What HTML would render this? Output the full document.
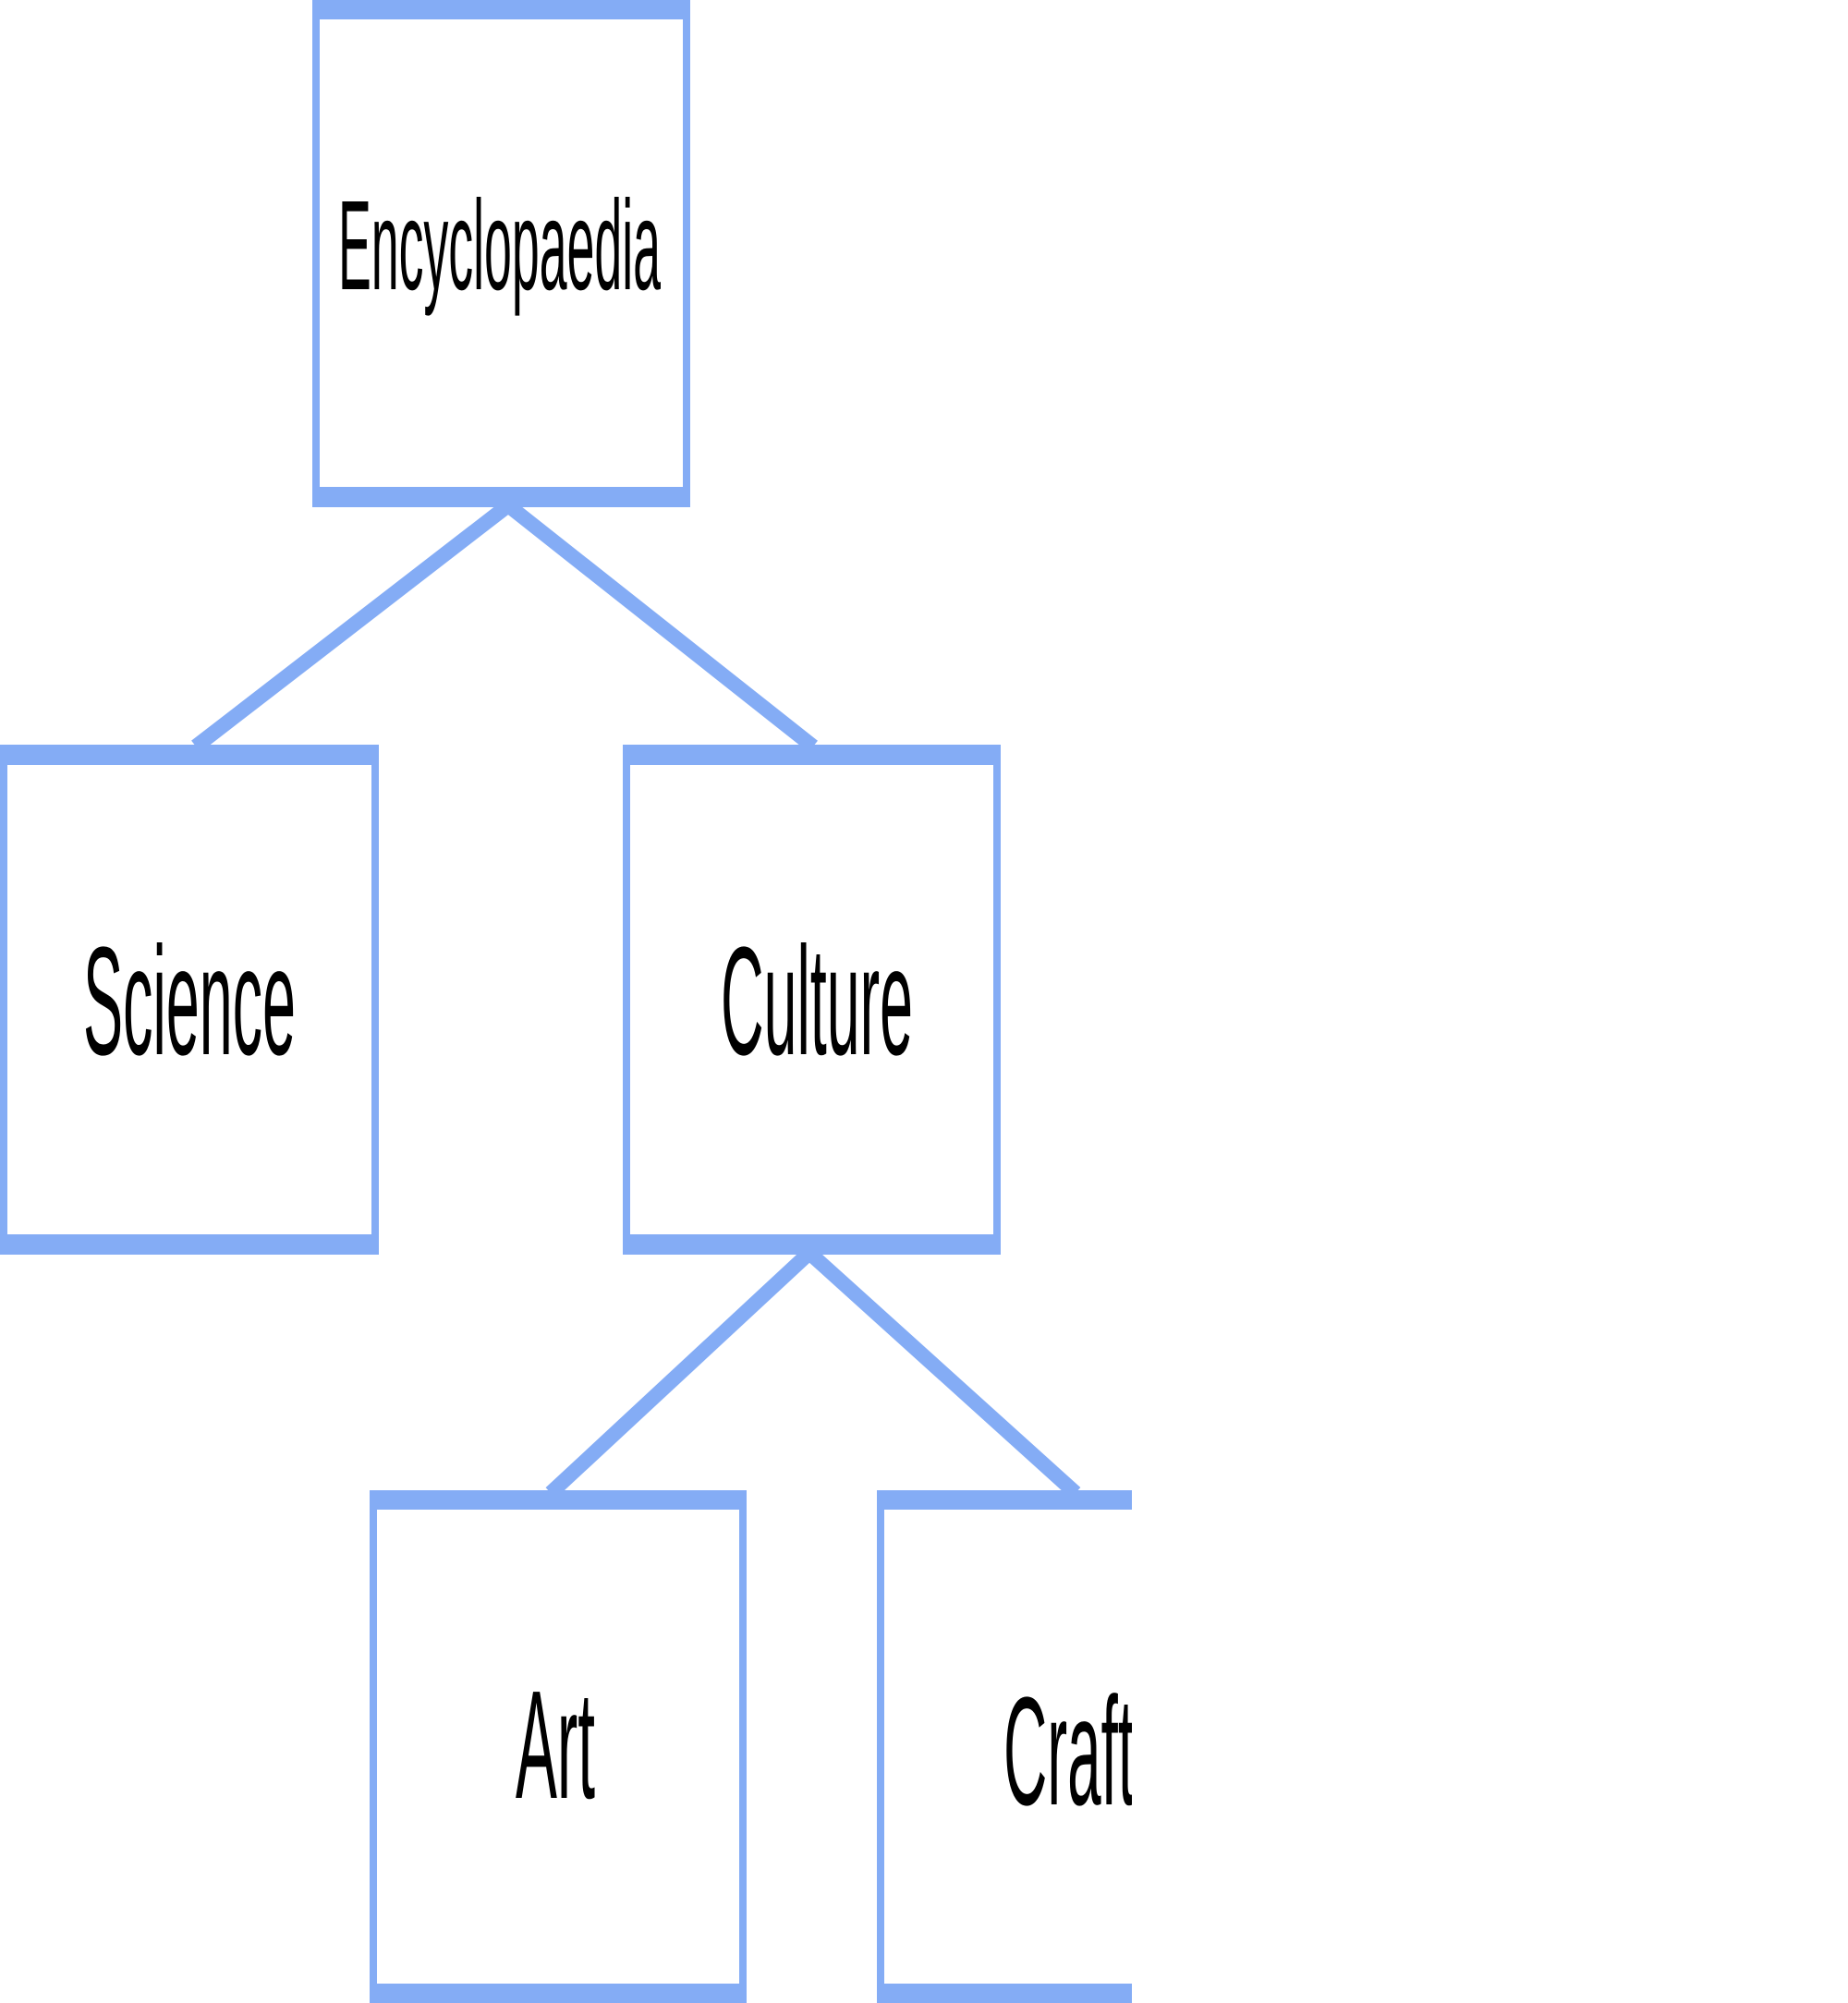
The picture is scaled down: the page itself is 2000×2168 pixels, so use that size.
<!DOCTYPE html>
<html><head><meta charset="utf-8"><style>
html,body{margin:0;padding:0;background:#fff;width:2000px;height:2168px;overflow:hidden}
svg{display:block}
text{font-family:"Liberation Sans",Arial,sans-serif;fill:#000}
</style></head><body>
<svg width="2000" height="2168" viewBox="0 0 2000 2168" xmlns="http://www.w3.org/2000/svg">
<defs><clipPath id="c"><rect x="0" y="0" width="1225" height="2168"/></clipPath></defs>
<g fill="#84ACF5" clip-path="url(#c)">
<g stroke="#84ACF5" stroke-width="16" fill="none">
<line x1="550" y1="547" x2="212" y2="808"/>
<line x1="550" y1="547" x2="880" y2="808"/>
<line x1="876" y1="1356" x2="596" y2="1616"/>
<line x1="876" y1="1356" x2="1164" y2="1616"/>
</g>
<rect x="338" y="0" width="409" height="21"/>
<rect x="338" y="527" width="409" height="22"/>
<rect x="338" y="0" width="8" height="549"/>
<rect x="739" y="0" width="8" height="549"/>
<rect x="0" y="806" width="410" height="22"/>
<rect x="0" y="1336" width="410" height="22"/>
<rect x="0" y="806" width="8" height="552"/>
<rect x="402" y="806" width="8" height="552"/>
<rect x="674" y="806" width="409" height="22"/>
<rect x="674" y="1336" width="409" height="22"/>
<rect x="674" y="806" width="8" height="552"/>
<rect x="1075" y="806" width="8" height="552"/>
<rect x="400" y="1613" width="408" height="21"/>
<rect x="400" y="2147" width="408" height="21"/>
<rect x="400" y="1613" width="8" height="555"/>
<rect x="800" y="1613" width="8" height="555"/>
<rect x="949" y="1613" width="410" height="21"/>
<rect x="949" y="2147" width="410" height="21"/>
<rect x="949" y="1613" width="8" height="555"/>
<g fill="#000">
<text x="366" y="313" font-size="138" textLength="349" lengthAdjust="spacingAndGlyphs">Encyclopaedia</text>
<text x="90" y="1141" font-size="167" textLength="230" lengthAdjust="spacingAndGlyphs">Science</text>
<text x="780" y="1141" font-size="167" textLength="208" lengthAdjust="spacingAndGlyphs">Culture</text>
<text x="558" y="1946" font-size="167" textLength="86" lengthAdjust="spacingAndGlyphs">Art</text>
<text x="1086" y="1953" font-size="167" textLength="142" lengthAdjust="spacingAndGlyphs">Craft</text>
</g>
</g>
</svg>
</body></html>
